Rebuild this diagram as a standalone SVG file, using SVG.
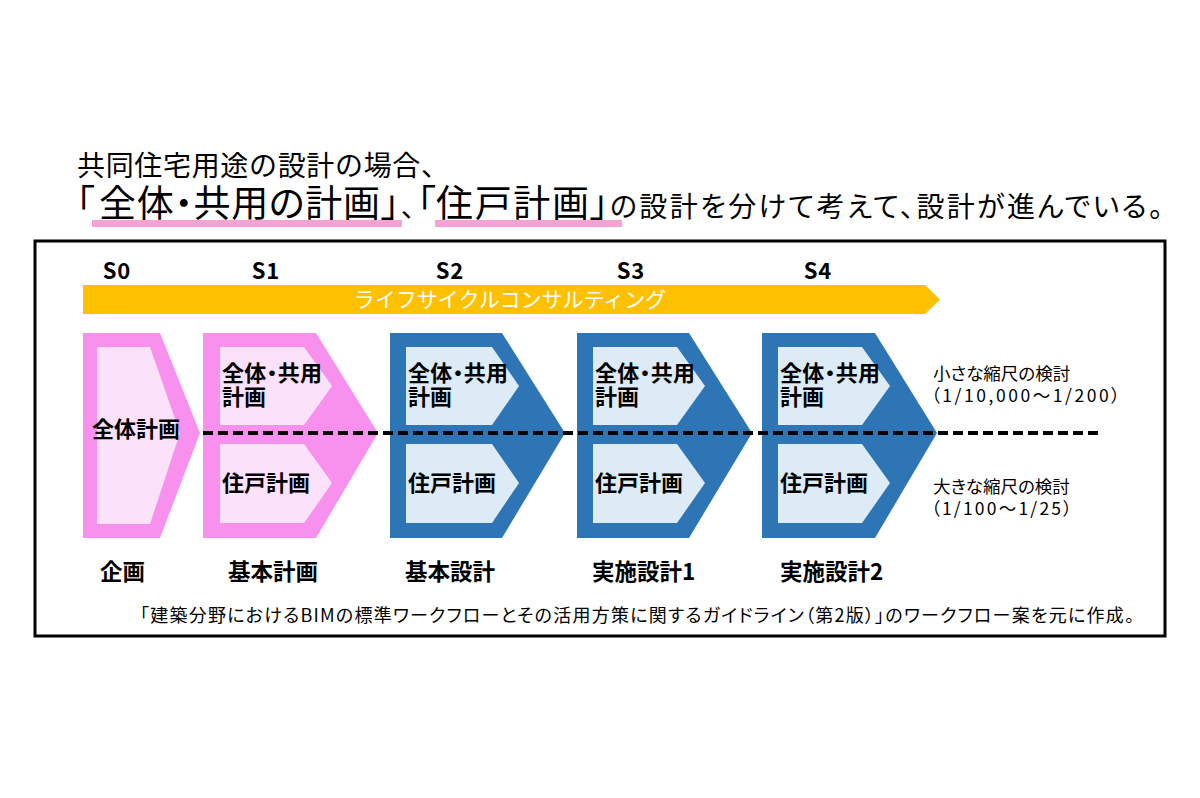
<svg xmlns="http://www.w3.org/2000/svg" width="1200" height="798" viewBox="0 0 1200 798">
<defs>
<style>
text{font-family:"Noto Sans CJK JP","Noto Sans",sans-serif;fill:#000}
.palt{font-feature-settings:"palt" 1}
.t1{font-size:28px}
.big{font-size:37px}
.sm{font-size:28px}
.ul{fill:#F7A2D3}
.pk-o{fill:#F891EE}
.pk-i{fill:#FCE1FA}
.bl-o{fill:#2E75B6}
.bl-i{fill:#DDEBF7}
.stg{font-size:22px;font-weight:bold;text-anchor:middle;letter-spacing:1px}
.lbl{font-size:22px;font-weight:bold}
.ph{font-size:22.5px;font-weight:bold}
.note{font-size:17.5px}
.foot{font-size:18px}
.bar-t{font-size:21px;fill:#fff;text-anchor:middle}
</style>
</defs>
<rect width="1200" height="798" fill="#fff"/>

<g id="title">
<rect class="ul" x="92" y="220" width="310" height="7"/>
<rect class="ul" x="435" y="220" width="187" height="7"/>
<text class="t1" x="77" y="176" textLength="372" lengthAdjust="spacing">共同住宅用途の設計の場合、</text>
<text y="217" class="palt"><tspan class="big" x="76">「</tspan><tspan class="big" x="99" textLength="281" lengthAdjust="spacing">全体・共用の計画</tspan><tspan class="big" x="381">」</tspan><tspan class="sm" x="401">、</tspan><tspan class="big" x="417">「</tspan><tspan class="big" x="436" textLength="153" lengthAdjust="spacing">住戸計画</tspan><tspan class="big" x="590">」</tspan><tspan class="sm" x="610" textLength="553" lengthAdjust="spacing">の設計を分けて考えて、設計が進んでいる。</tspan></text>
</g>

<rect id="frame" x="35" y="241" width="1130" height="395" fill="none" stroke="#000" stroke-width="3"/>

<g id="stages">
<text class="stg" x="117" y="279">S0</text>
<text class="stg" x="266" y="279">S1</text>
<text class="stg" x="450" y="279">S2</text>
<text class="stg" x="631" y="279">S3</text>
<text class="stg" x="818" y="279">S4</text>
</g>

<g id="lifecycle">
<polygon points="83,285 925,285 940,299.5 925,314 83,314" fill="#FFC000"/>
<text class="bar-t" x="510" y="307">ライフサイクルコンサルティング</text>
</g>

<g id="s0">
<polygon class="pk-o" points="83,333 160,333 200,433 160,538 83,538"/>
<polygon class="pk-i" points="97,347 150,347 180,433 150,524 97,524"/>
<text class="lbl" x="92" y="437">全体計画</text>
</g>

<g id="s1">
<polygon class="pk-o" points="203,333 316,333 378,433 316,538 203,538"/>
<polygon class="pk-i" points="220,347 304,347 332,386 304,425 220,425"/>
<polygon class="pk-i" points="220,444 304,444 332,483 304,523 220,523"/>
<text class="lbl palt"><tspan x="222" y="381" textLength="100" lengthAdjust="spacing">全体・共用</tspan><tspan x="222" y="405">計画</tspan></text>
<text class="lbl" x="222" y="491">住戸計画</text>
</g>

<g id="s2">
<polygon class="bl-o" points="390,333 502,333 565,433 502,538 390,538"/>
<polygon class="bl-i" points="406,347 492,347 519,386 492,425 406,425"/>
<polygon class="bl-i" points="406,444 492,444 519,483 492,523 406,523"/>
<text class="lbl palt"><tspan x="408" y="381" textLength="100" lengthAdjust="spacing">全体・共用</tspan><tspan x="408" y="405">計画</tspan></text>
<text class="lbl" x="408" y="491">住戸計画</text>
</g>

<g id="s3">
<polygon class="bl-o" points="577,333 689,333 752,433 689,538 577,538"/>
<polygon class="bl-i" points="593,347 677,347 705,386 677,425 593,425"/>
<polygon class="bl-i" points="593,444 677,444 705,483 677,523 593,523"/>
<text class="lbl palt"><tspan x="595" y="381" textLength="100" lengthAdjust="spacing">全体・共用</tspan><tspan x="595" y="405">計画</tspan></text>
<text class="lbl" x="595" y="491">住戸計画</text>
</g>

<g id="s4">
<polygon class="bl-o" points="762,333 875,333 937,433 875,538 762,538"/>
<polygon class="bl-i" points="778,347 862,347 890,386 862,425 778,425"/>
<polygon class="bl-i" points="778,444 862,444 890,483 862,523 778,523"/>
<text class="lbl palt"><tspan x="780" y="381" textLength="100" lengthAdjust="spacing">全体・共用</tspan><tspan x="780" y="405">計画</tspan></text>
<text class="lbl" x="780" y="491">住戸計画</text>
</g>

<g id="connectors">
<line x1="203" y1="433" x2="1102" y2="433" stroke="#000" stroke-width="4" stroke-dasharray="10 5"/>
</g>

<g id="scale-notes">
<text class="note palt"><tspan x="933" y="380">小さな縮尺の検討</tspan><tspan x="931" y="402" textLength="189" lengthAdjust="spacing">（1/10,000～1/200）</tspan></text>
<text class="note palt"><tspan x="933" y="493">大きな縮尺の検討</tspan><tspan x="931" y="515" textLength="141" lengthAdjust="spacing">（1/100～1/25）</tspan></text>
</g>

<g id="phases">
<text class="ph" x="100" y="580">企画</text>
<text class="ph" x="228" y="580">基本計画</text>
<text class="ph" x="405" y="580">基本設計</text>
<text class="ph" x="592" y="580">実施設計1</text>
<text class="ph" x="780" y="580">実施設計2</text>
</g>

<text class="foot palt" x="140" y="622" textLength="994" lengthAdjust="spacing">「建築分野におけるBIMの標準ワークフローとその活用方策に関するガイドライン（第2版）」のワークフロー案を元に作成。</text>
</svg>
